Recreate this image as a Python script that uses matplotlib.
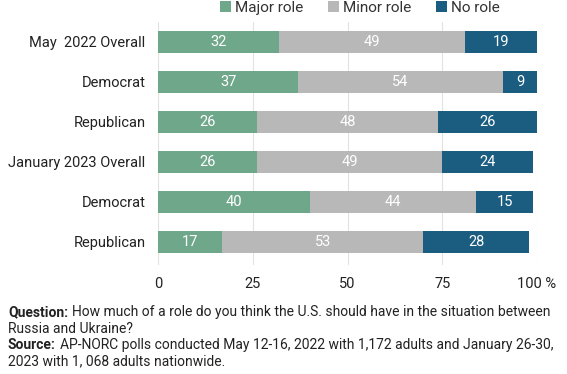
import matplotlib.pyplot as plt
import numpy as np

plt.rcParams['font.family'] = ['Roboto', 'DejaVu Sans']

# dados
grupos = ['May  2022 Overall', 'Democrat', 'Republican',
          'January 2023 Overall', 'Democrat', 'Republican']
major = [32, 37, 26, 26, 40, 17]
minor = [49, 54, 48, 49, 44, 53]
no_role = [19, 9, 26, 24, 15, 28]
series = ['Major role', 'Minor role', 'No role']
cores = ['#6fa78a', '#b8b8b8', '#1b5d80']
ticks = [0, 25, 50, 75, 100]
tick_labels = ['0', '25', '50', '75', '100 %']

fig = plt.figure(figsize=(5.67, 3.74), dpi=100)
ax = fig.add_axes([158 / 567, 1 - 265 / 374, (537 - 158) / 567, (265 - 22) / 374])

y = np.arange(len(grupos))
esquerda = np.zeros(len(grupos))
for nome, valores, cor in zip(series, [major, minor, no_role], cores):
    barras = ax.barh(y, valores, left=esquerda, height=0.55, color=cor, label=nome, zorder=2)
    for b, v in zip(barras, valores):
        ax.text(b.get_x() + b.get_width() / 2, b.get_y() + b.get_height() / 2, str(v),
                ha='center', va='center', color='white', fontsize=10.5)
    esquerda += np.array(valores)

ax.set_ylim(5.575, -0.5)
ax.set_xlim(0, 100)
ax.set_yticks(y)
ax.set_yticklabels(grupos, fontsize=10.5, color='#222222')
ax.set_xticks(ticks)
ax.set_xticklabels(tick_labels, fontsize=10.5, color='#222222')
ax.tick_params(length=0)
ax.tick_params(axis='x', pad=9)
ax.tick_params(axis='y', pad=9)
ax.xaxis.grid(True, color='#e2e2e2', linewidth=0.8, zorder=0)
for s in ax.spines.values():
    s.set_visible(False)

ax.legend(loc='center', bbox_to_anchor=(360 / 567, 1 - 8 / 374), bbox_transform=fig.transFigure,
          ncol=3, frameon=False, fontsize=11, handlelength=0.7, handleheight=0.7,
          handletextpad=0.3, columnspacing=1.6, labelcolor='#333333')

# texto de rodape: parte em negrito + resto logo depois
fs = 10
rend = fig.canvas.get_renderer()

def linha(y_px, negrito, resto):
    x0 = 8 / 567
    yy = 1 - y_px / 374
    if negrito:
        t = fig.text(x0, yy, negrito, fontsize=fs, fontweight='bold', va='center', color='#222222')
        bb = t.get_window_extent(renderer=rend)
        x0 = (bb.x1 + 4) / 567
    fig.text(x0, yy, resto, fontsize=fs, va='center', color='#222222')

linha(312, 'Question:', 'How much of a role do you think the U.S. should have in the situation between')
linha(329, None, 'Russia and Ukraine?')
linha(345, 'Source:', 'AP-NORC polls conducted May 12-16, 2022 with 1,172 adults and January 26-30,')
linha(361, None, '2023 with 1, 068 adults nationwide.')

fig.savefig('out.png', dpi=100)
